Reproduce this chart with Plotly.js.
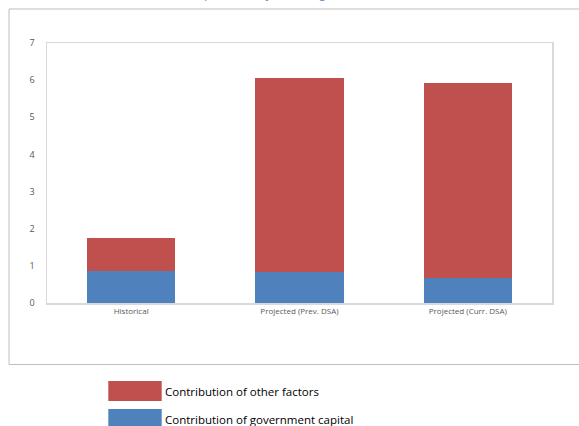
<!DOCTYPE html>
<html><head><meta charset="utf-8">
<script src="https://cdn.plot.ly/plotly-3.0.1.min.js"></script>
<style>html,body{margin:0;padding:0;background:#fff;}#chart{width:579px;height:426px;}</style>
</head><body><div id="chart"></div>
<script>
const categories = ["Historical", "Projected (Prev. DSA)", "Projected (Curr. DSA)"];
const govCapital = [0.85, 0.83, 0.66];
const otherFactors = [0.89, 5.22, 5.27];
const seriesNames = ["Contribution of government capital", "Contribution of other factors"];
const yTicks = [0, 1, 2, 3, 4, 5, 6, 7];
const titleText = "(percent, 10-year average)";

const blue = "#4F81BD", red = "#C0504D";
const font = "Open Sans, Noto Sans, sans-serif";

const traces = [
  {type: "bar", x: categories, y: govCapital, name: seriesNames[0], marker: {color: blue}, showlegend: false, hoverinfo: "none"},
  {type: "bar", x: categories, y: otherFactors, name: seriesNames[1], marker: {color: red}, showlegend: false, hoverinfo: "none"}
];

const layout = {
  width: 579, height: 426,
  margin: {l: 47, r: 27, t: 43, b: 123},
  barmode: "stack",
  bargap: 0.475,
  paper_bgcolor: "#fff", plot_bgcolor: "#fff",
  font: {family: font, color: "#595959"},
  xaxis: {showline: true, mirror: true, linecolor: "#d9d9d9", linewidth: 1.5, ticks: "", tickfont: {size: 8, color: "#595959"}, showgrid: false, zeroline: false, fixedrange: true},
  yaxis: {range: [0, 7], tickvals: yTicks, showline: true, mirror: true, linecolor: "#d9d9d9", linewidth: 1.5, ticks: "", ticklen: 0, ticklabelstandoff: 9, tickfont: {size: 9, color: "#595959"}, showgrid: false, zeroline: false, fixedrange: true},
  shapes: [
    {type: "rect", xref: "paper", yref: "paper", x0: -0.0752, x1: 1.1, y0: -0.2365, y1: 1.1308, line: {color: "#bfbfbf", width: 1}, fillcolor: "rgba(0,0,0,0)", layer: "below"},
    {type: "rect", xref: "paper", yref: "paper", x0: 0.1214, x1: 0.2271, y0: -0.3769, y1: -0.3, line: {width: 0}, fillcolor: red},
    {type: "rect", xref: "paper", yref: "paper", x0: 0.1214, x1: 0.2271, y0: -0.4808, y1: -0.4077, line: {width: 0}, fillcolor: blue}
  ],
  annotations: [
    {xref: "paper", yref: "paper", x: 0.2297, y: -0.3385, xanchor: "left", yanchor: "middle", text: seriesNames[1], showarrow: false, font: {family: font, size: 11.5, color: "#000"}},
    {xref: "paper", yref: "paper", x: 0.2297, y: -0.4462, xanchor: "left", yanchor: "middle", text: seriesNames[0], showarrow: false, font: {family: font, size: 11.5, color: "#000"}},
    {xref: "paper", yref: "paper", x: 0.4376, y: 1.1654, xanchor: "center", yanchor: "bottom", yshift: -3.5, text: titleText, showarrow: false, font: {family: font, size: 11, color: "#4F81BD"}}
  ]
};

Plotly.newPlot("chart", traces, layout, {displayModeBar: false, staticPlot: true});
</script></body></html>
